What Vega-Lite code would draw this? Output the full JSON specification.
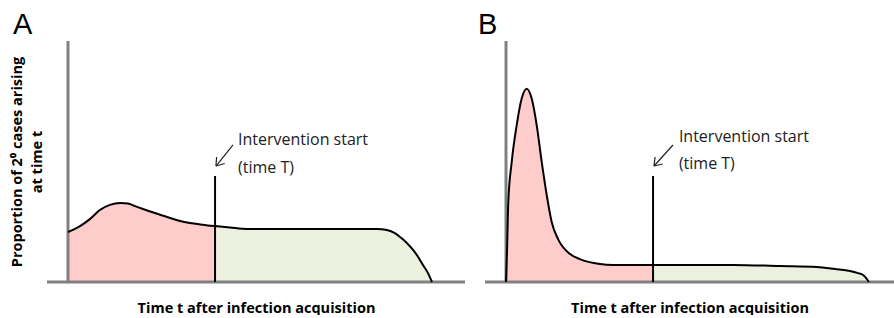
{
  "$schema": "https://vega.github.io/schema/vega-lite/v6.json",
  "background": "white",
  "padding": {"left": 9, "top": 10, "right": 0, "bottom": 0},
  "bounds": "flush",
  "spacing": 20,
  "config": {"view": {"stroke": null}, "font": "Open Sans", "axis": {"minExtent": 0}},
  "datasets": {
    "curveA": [
      {"t": 0, "p": 0.2075, "phase": "before"},
      {"t": 0.33, "p": 0.232, "phase": "before"},
      {"t": 0.6, "p": 0.261, "phase": "before"},
      {"t": 0.88, "p": 0.299, "phase": "before"},
      {"t": 1.15, "p": 0.32, "phase": "before"},
      {"t": 1.43, "p": 0.328, "phase": "before"},
      {"t": 1.65, "p": 0.326, "phase": "before"},
      {"t": 1.84, "p": 0.315, "phase": "before"},
      {"t": 2.06, "p": 0.303, "phase": "before"},
      {"t": 2.39, "p": 0.286, "phase": "before"},
      {"t": 2.72, "p": 0.27, "phase": "before"},
      {"t": 3.08, "p": 0.253, "phase": "before"},
      {"t": 3.35, "p": 0.245, "phase": "before"},
      {"t": 3.63, "p": 0.239, "phase": "before"},
      {"t": 4.04, "p": 0.232, "phase": "before"},
      {"t": 4.04, "p": 0.232, "phase": "after"},
      {"t": 4.45, "p": 0.226, "phase": "after"},
      {"t": 4.92, "p": 0.22, "phase": "after"},
      {"t": 6.37, "p": 0.22, "phase": "after"},
      {"t": 8.49, "p": 0.22, "phase": "after"},
      {"t": 8.76, "p": 0.216, "phase": "after"},
      {"t": 8.98, "p": 0.203, "phase": "after"},
      {"t": 9.12, "p": 0.187, "phase": "after"},
      {"t": 9.31, "p": 0.162, "phase": "after"},
      {"t": 9.48, "p": 0.133, "phase": "after"},
      {"t": 9.62, "p": 0.104, "phase": "after"},
      {"t": 9.75, "p": 0.071, "phase": "after"},
      {"t": 9.89, "p": 0.037, "phase": "after"},
      {"t": 10.0, "p": 0, "phase": "after"}
    ],
    "curveB": [
      {"t": 0, "p": 0, "phase": "before"},
      {"t": 0.03, "p": 0.14, "phase": "before"},
      {"t": 0.063, "p": 0.332, "phase": "before"},
      {"t": 0.157, "p": 0.498, "phase": "before"},
      {"t": 0.294, "p": 0.651, "phase": "before"},
      {"t": 0.431, "p": 0.761, "phase": "before"},
      {"t": 0.569, "p": 0.802, "phase": "before"},
      {"t": 0.706, "p": 0.761, "phase": "before"},
      {"t": 0.843, "p": 0.651, "phase": "before"},
      {"t": 0.981, "p": 0.498, "phase": "before"},
      {"t": 1.118, "p": 0.361, "phase": "before"},
      {"t": 1.255, "p": 0.249, "phase": "before"},
      {"t": 1.43, "p": 0.178, "phase": "before"},
      {"t": 1.76, "p": 0.116, "phase": "before"},
      {"t": 2.03, "p": 0.095, "phase": "before"},
      {"t": 2.58, "p": 0.075, "phase": "before"},
      {"t": 2.94, "p": 0.071, "phase": "before"},
      {"t": 4.04, "p": 0.071, "phase": "before"},
      {"t": 4.04, "p": 0.071, "phase": "after"},
      {"t": 6.24, "p": 0.071, "phase": "after"},
      {"t": 7.53, "p": 0.066, "phase": "after"},
      {"t": 8.54, "p": 0.062, "phase": "after"},
      {"t": 9.04, "p": 0.054, "phase": "after"},
      {"t": 9.45, "p": 0.046, "phase": "after"},
      {"t": 9.67, "p": 0.037, "phase": "after"},
      {"t": 9.81, "p": 0.029, "phase": "after"},
      {"t": 9.89, "p": 0.017, "phase": "after"},
      {"t": 9.97, "p": 0, "phase": "after"}
    ],
    "arrowA": [
      {"t": 4.533, "p": 0.5685, "t2": 4.066, "p2": 0.4813},
      {"t": 4.066, "p": 0.4813, "t2": 4.082, "p2": 0.5187},
      {"t": 4.066, "p": 0.4813, "t2": 4.305, "p2": 0.4917}
    ],
    "arrowB": [
      {"t": 4.588, "p": 0.5685, "t2": 4.066, "p2": 0.4813},
      {"t": 4.066, "p": 0.4813, "t2": 4.096, "p2": 0.5186},
      {"t": 4.066, "p": 0.4813, "t2": 4.307, "p2": 0.4896}
    ],
    "textA": [
      {"t": 4.67, "p": 0.568, "label": "Intervention start"},
      {"t": 4.67, "p": 0.452, "label": "(time T)"}
    ],
    "textB": [
      {"t": 4.75, "p": 0.581, "label": "Intervention start"},
      {"t": 4.75, "p": 0.469, "label": "(time T)"}
    ]
  },
  "hconcat": [
    {
      "width": 418,
      "height": 241,
      "title": {"text": "A", "anchor": "start", "frame": "group", "font": "Liberation Sans", "fontSize": 29, "fontWeight": "normal", "color": "black", "dx": -34, "offset": 0},
      "encoding": {
        "x": {"field": "t", "type": "quantitative", "scale": {"domain": [-0.577, 10.907], "nice": false, "zero": false},
          "axis": {"title": "Time t after infection acquisition", "domain": false, "ticks": false, "labels": false, "grid": false, "titleFontSize": 14.5, "titleFontWeight": "bold", "titleColor": "black", "titleFont": "Open Sans", "titlePadding": 19}},
        "y": {"field": "p", "type": "quantitative", "stack": null, "scale": {"domain": [0, 1], "nice": false, "zero": false},
          "axis": {"title": ["Proportion of 2⁰ cases arising", "at time t"], "domain": false, "ticks": false, "labels": false, "grid": false, "titleFontSize": 14.5, "titleFontWeight": "bold", "titleColor": "black", "titleFont": "Open Sans", "titlePadding": 3, "titleLineHeight": 20}}
      },
      "layer": [
        {"data": {"name": "curveA"}, "mark": {"type": "area", "interpolate": "monotone"},
          "encoding": {"color": {"field": "phase", "type": "nominal", "scale": {"domain": ["before", "after"], "range": ["#FFCCCC", "#EBF1DE"]}, "legend": null}}},
        {"data": {"values": [{"t": 0, "p": 0, "p2": 1}]}, "mark": {"type": "rule", "color": "#808080", "strokeWidth": 3}, "encoding": {"y2": {"field": "p2"}}},
        {"data": {"values": [{"t": -0.577, "t2": 10.907, "p": 0}]}, "mark": {"type": "rule", "color": "#808080", "strokeWidth": 3}, "encoding": {"x2": {"field": "t2"}}},
        {"data": {"name": "curveA"}, "transform": [{"filter": "datum.phase == 'before' || datum.t > 4.04"}], "mark": {"type": "line", "interpolate": "monotone", "color": "black", "strokeWidth": 2}},
        {"data": {"values": [{"t": 4.04, "p": 0, "p2": 0.44}]}, "mark": {"type": "rule", "color": "black", "strokeWidth": 2}, "encoding": {"y2": {"field": "p2"}}},
        {"data": {"name": "arrowA"}, "mark": {"type": "rule", "color": "#222222", "strokeWidth": 1.2}, "encoding": {"x2": {"field": "t2"}, "y2": {"field": "p2"}}},
        {"data": {"name": "textA"}, "mark": {"type": "text", "align": "left", "baseline": "alphabetic", "fontSize": 16, "font": "Open Sans", "color": "#222222"}, "encoding": {"text": {"field": "label"}}}
      ]
    },
    {
      "width": 409,
      "height": 241,
      "title": {"text": "B", "anchor": "start", "frame": "group", "font": "Liberation Sans", "fontSize": 29, "fontWeight": "normal", "color": "black", "dx": -7, "offset": 0},
      "encoding": {
        "x": {"field": "t", "type": "quantitative", "scale": {"domain": [-0.577, 10.66], "nice": false, "zero": false},
          "axis": {"title": "Time t after infection acquisition", "domain": false, "ticks": false, "labels": false, "grid": false, "titleFontSize": 14.5, "titleFontWeight": "bold", "titleColor": "black", "titleFont": "Open Sans", "titlePadding": 19}},
        "y": {"field": "p", "type": "quantitative", "stack": null, "scale": {"domain": [0, 1], "nice": false, "zero": false}, "axis": null}
      },
      "layer": [
        {"data": {"name": "curveB"}, "mark": {"type": "area", "interpolate": "monotone"},
          "encoding": {"color": {"field": "phase", "type": "nominal", "scale": {"domain": ["before", "after"], "range": ["#FFCCCC", "#EBF1DE"]}, "legend": null}}},
        {"data": {"values": [{"t": 0, "p": 0, "p2": 1}]}, "mark": {"type": "rule", "color": "#808080", "strokeWidth": 3}, "encoding": {"y2": {"field": "p2"}}},
        {"data": {"values": [{"t": -0.577, "t2": 10.66, "p": 0}]}, "mark": {"type": "rule", "color": "#808080", "strokeWidth": 3}, "encoding": {"x2": {"field": "t2"}}},
        {"data": {"name": "curveB"}, "transform": [{"filter": "datum.phase == 'before' || datum.t > 4.04"}], "mark": {"type": "line", "interpolate": "monotone", "color": "black", "strokeWidth": 2}},
        {"data": {"values": [{"t": 4.04, "p": 0, "p2": 0.44}]}, "mark": {"type": "rule", "color": "black", "strokeWidth": 2}, "encoding": {"y2": {"field": "p2"}}},
        {"data": {"name": "arrowB"}, "mark": {"type": "rule", "color": "#222222", "strokeWidth": 1.2}, "encoding": {"x2": {"field": "t2"}, "y2": {"field": "p2"}}},
        {"data": {"name": "textB"}, "mark": {"type": "text", "align": "left", "baseline": "alphabetic", "fontSize": 16, "font": "Open Sans", "color": "#222222"}, "encoding": {"text": {"field": "label"}}}
      ]
    }
  ]
}
